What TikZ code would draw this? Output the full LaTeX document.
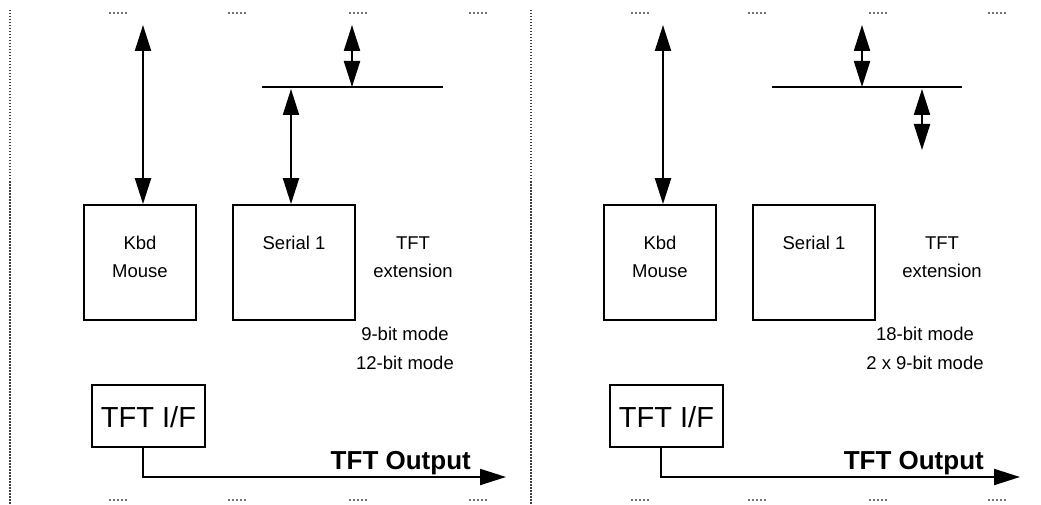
\documentclass[tikz,border=0pt]{standalone}
\usepackage{fontspec}
\setmainfont{Liberation Sans}
\usetikzlibrary{arrows.meta}
\tikzset{
  blk/.style={draw, line width=1.8pt, inner sep=0pt},
  lbl/.style={align=center, inner sep=0pt, font=\fontsize{18.5}{28}\selectfont},
  model/.style={align=center, inner sep=0pt, font=\fontsize{18.5}{29}\selectfont},
  bigl/.style={inner sep=0pt, font=\fontsize{29}{30}\selectfont},
  outl/.style={inner sep=0pt, font=\fontsize{26}{30}\selectfont\bfseries},
  dbl/.style={line width=2.2pt, {Triangle[length=26pt,width=16pt]}-{Triangle[length=26pt,width=16pt]}},
  sgl/.style={line width=2.2pt, -{Triangle[length=26pt,width=16pt]}},
  bus/.style={line width=2.6pt},
  sep/.style={line width=1.3pt, dash pattern=on 1.5pt off 1.5pt, black!75},
  junk/.style={line width=1.3pt, dash pattern=on 1.5pt off 2.5pt, black!55}
}
\begin{document}
\begin{tikzpicture}[x=1pt,y=-1pt]
\useasboundingbox (0,0) rectangle (1041,505);
% separators
\coordinate (s1t) at (10,10); \coordinate (s1b) at (10,505);
\coordinate (s2t) at (531,10); \coordinate (s2b) at (531,505);
\draw[sep] (s1t) -- (s1b);
\draw[sep] (s2t) -- (s2b);
% clipped label remnants
\foreach \x in {118,237,358,478,640,757,878,997}{
  \draw[junk] (\x-9,13) -- (\x+9,13);
  \draw[junk] (\x-9,500) -- (\x+9,500);
}
% ---------- left panel ----------
\node[blk, minimum width=112pt, minimum height=115pt] (kbdL) at (140,262.5) {};
\node[lbl, anchor=base] (kbdLt) at (140,277) {Kbd\\Mouse};
\node[blk, minimum width=122pt, minimum height=115pt] (serL) at (294,262.5) {};
\node[lbl, anchor=base] (serLt) at (294,249) {Serial 1};
\node[lbl, anchor=base] (extL) at (413,277) {TFT\\extension};
\node[model, anchor=base] (modeL) at (405,369) {9-bit mode\\12-bit mode};
\coordinate (busLa) at (262,87); \coordinate (busLb) at (443,87);
\draw[bus] (busLa) -- (busLb);
\coordinate (kbdLtop) at (143,25);
\draw[dbl] (kbdLtop) -- (kbdLtop |- kbdL.north);
\coordinate (busLtop) at (352,25);
\draw[dbl] (busLtop) -- (busLtop |- busLa);
\coordinate (serLc) at (291,89);
\draw[dbl] (serLc) -- (serLc |- serL.north);
\node[blk, minimum width=113pt, minimum height=62pt] (tftL) at (148.5,416) {};
\node[bigl] (tftLt) at (148.5,417) {TFT I/F};
\coordinate (outL) at (506,477);
\draw[sgl] ([xshift=-5.5pt]tftL.south) |- (outL);
\node[outl, anchor=base east] (outLt) at (471,469) {TFT Output};
% ---------- right panel ----------
\node[blk, minimum width=112pt, minimum height=115pt] (kbdR) at (660,262.5) {};
\node[lbl, anchor=base] (kbdRt) at (660,277) {Kbd\\Mouse};
\node[blk, minimum width=122pt, minimum height=115pt] (serR) at (814,262.5) {};
\node[lbl, anchor=base] (serRt) at (814,249) {Serial 1};
\node[lbl, anchor=base] (extR) at (942,277) {TFT\\extension};
\node[model, anchor=base] (modeR) at (925,369) {18-bit mode\\2 x 9-bit mode};
\coordinate (busRa) at (772,87); \coordinate (busRb) at (962,87);
\draw[bus] (busRa) -- (busRb);
\coordinate (kbdRtop) at (663,25);
\draw[dbl] (kbdRtop) -- (kbdRtop |- kbdR.north);
\coordinate (busRtop) at (862,25);
\draw[dbl] (busRtop) -- (busRtop |- busRa);
\coordinate (extRc) at (922,89); \coordinate (extRe) at (922,150);
\draw[dbl] (extRc) -- (extRe);
\node[blk, minimum width=113pt, minimum height=62pt] (tftR) at (666.5,416) {};
\node[bigl] (tftRt) at (666.5,417) {TFT I/F};
\coordinate (outR) at (1020,477);
\draw[sgl] ([xshift=-5.5pt]tftR.south) |- (outR);
\node[outl, anchor=base east] (outRt) at (984,469) {TFT Output};
\end{tikzpicture}
\end{document}
